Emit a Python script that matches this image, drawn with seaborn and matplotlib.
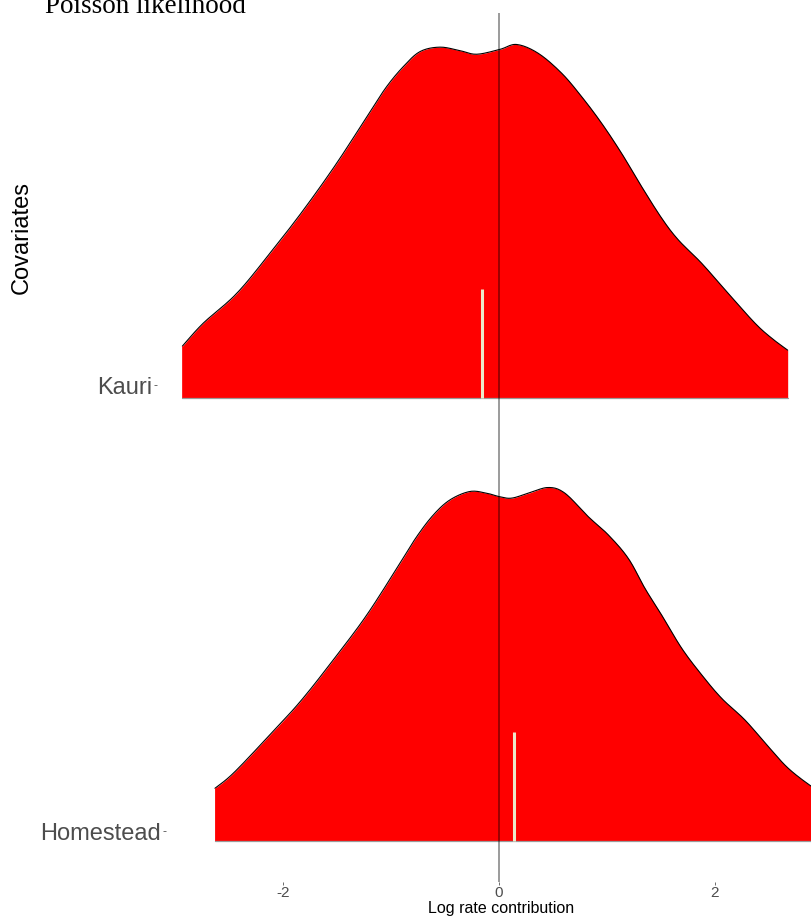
import matplotlib
matplotlib.use("Agg")
import matplotlib.pyplot as plt
from matplotlib.transforms import ScaledTranslation
import numpy as np
import pandas as pd
import seaborn as sns

# Ridge outlines: x positions (log rate contribution) and scaled density heights
kauri_x = [-2.932, -2.738, -2.429, -2.120, -1.812, -1.503, -1.194, -1.040, -0.886,
           -0.731, -0.546, -0.361, -0.206, 0.009, 0.164, 0.364, 0.581, 0.766, 0.951,
           1.136, 1.321, 1.506, 1.660, 1.877, 2.123, 2.370, 2.525, 2.673]
kauri_h = [0.117, 0.169, 0.236, 0.327, 0.424, 0.530, 0.646, 0.703, 0.748,
           0.782, 0.792, 0.784, 0.776, 0.787, 0.798, 0.778, 0.733, 0.680, 0.620,
           0.552, 0.477, 0.406, 0.357, 0.304, 0.236, 0.169, 0.135, 0.108]

homestead_x = [-2.630, -2.460, -2.151, -1.843, -1.534, -1.225, -0.917, -0.762, -0.608,
               -0.454, -0.269, -0.114, 0.009, 0.118, 0.271, 0.456, 0.611, 0.827,
               1.012, 1.197, 1.352, 1.506, 1.692, 1.877, 2.062, 2.278, 2.494, 2.679,
               2.895, 3.000]
homestead_h = [0.119, 0.153, 0.232, 0.314, 0.409, 0.510, 0.627, 0.687, 0.736,
               0.770, 0.789, 0.785, 0.777, 0.774, 0.785, 0.798, 0.785, 0.732,
               0.691, 0.638, 0.570, 0.510, 0.435, 0.375, 0.322, 0.273, 0.213, 0.164,
               0.123, 0.110]

covariates = ["Homestead", "Kauri"]
medians = [0.142, -0.155]
ridge_x = [homestead_x, kauri_x]
ridge_h = [homestead_h, kauri_h]
x_ticks = [-2, 0, 2]


def smooth_path(xs, ys, steps=12):
    """Catmull-Rom rendering of an outline through its points."""
    p = np.column_stack([xs, ys])
    p = np.vstack([p[0], p, p[-1]])
    out = []
    t = np.linspace(0, 1, steps, endpoint=False)[:, None]
    for i in range(1, len(p) - 2):
        p0, p1, p2, p3 = p[i - 1], p[i], p[i + 1], p[i + 2]
        seg = 0.5 * ((2 * p1) + (-p0 + p2) * t + (2 * p0 - 5 * p1 + 4 * p2 - p3) * t ** 2
                     + (-p0 + 3 * p1 - 3 * p2 + p3) * t ** 3)
        out.append(seg)
    out.append(p[-2][None, :])
    out = np.vstack(out)
    return out[:, 0], out[:, 1]


sns.set_theme(style="white")
plt.rcParams["font.family"] = ["Liberation Sans", "DejaVu Sans"]

W, H = 812, 923
fig = plt.figure(figsize=(W / 100, H / 100), dpi=100)
ax = fig.add_axes([157 / W, 41 / H, (W - 157) / W, (882 - 13) / H])

baselines = [1.0, 2.0]
for name, base, xs, hs, med in zip(covariates, baselines, ridge_x, ridge_h, medians):
    sx, sy = smooth_path(xs, hs)
    top = base + sy
    poly_x = np.concatenate([[sx[0]], sx, [sx[-1]]])
    poly_y = np.concatenate([[base], top, [base]])
    ax.fill_between(poly_x, base, poly_y, color="#FF0000", linewidth=0, zorder=2)
    df = pd.DataFrame({"x": sx, "y": top})
    sns.lineplot(data=df, x="x", y="y", color="black", linewidth=0.8,
                 sort=False, estimator=None, ax=ax, zorder=3)
    ax.plot([sx[0], sx[0]], [base, top[0]], color="#FF0000", linewidth=0.6, zorder=3)
    ax.plot([sx[0], sx[-1]], [base, base], color="#9a9a9a", linewidth=0.9, zorder=3)
    # median marker
    ax.plot([med, med], [base, base + 0.247], color="#ECE8CA", linewidth=2.2,
            solid_capstyle="butt", zorder=4)

ax.axvline(0, color="black", alpha=0.5, linewidth=1.1, zorder=5)

ax.set_xlim((157 - 499) / 108, (W - 499) / 108)
ax.set_ylim(1 - 41 / 443, 2 + 385 / 443)

ax.set_xticks(x_ticks)
ax.set_xticklabels([str(t) if t >= 0 else "-" + str(abs(t)) for t in x_ticks])
ax.set_yticks([1 + 0.022, 2 + 0.029])
ax.set_yticklabels(covariates)
ax.tick_params(axis="x", length=2.2, width=0.6, color="#555555", pad=0.5,
               labelsize=11, labelcolor="#4D4D4D", bottom=True)
ax.tick_params(axis="y", length=2.2, width=0.6, color="#555555", pad=1.5,
               labelsize=17, labelcolor="#4D4D4D", left=True)
# the lower category label sits a little further right
shift = ScaledTranslation(9 / 100, 0, fig.dpi_scale_trans)
low_tick = ax.yaxis.get_major_ticks()[0]
low_tick.label1.set_transform(low_tick.label1.get_transform() + shift)
low_tick.tick1line.set_transform(low_tick.tick1line.get_transform() + shift)

for s in ax.spines.values():
    s.set_visible(False)
ax.grid(False)
ax.set_xlabel("")
ax.set_ylabel("")

fig.text(45 / W, 1 - 13 / H, "Poisson likelihood", family="Liberation Serif",
         fontsize=19.5, color="black", ha="left", va="baseline")
fig.text(22 / W, 1 - 237 / H, "Covariates", fontsize=17, color="black",
         rotation=90, ha="center", va="center")
fig.text(501 / W, 1 - 909 / H, "Log rate contribution", fontsize=11.5,
         color="black", ha="center", va="center")

fig.savefig("out.png", dpi=100)
